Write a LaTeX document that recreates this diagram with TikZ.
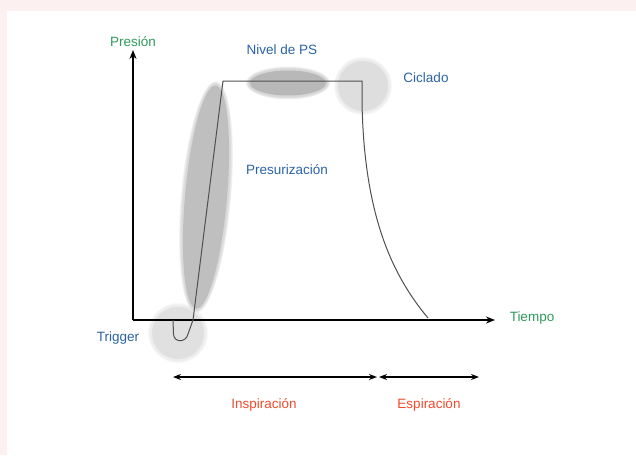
\documentclass[tikz,border=0pt]{standalone}
\usepackage{fontspec}
\setmainfont{Liberation Sans}
\usetikzlibrary{shapes.geometric,arrows.meta}
\definecolor{pinkbg}{HTML}{FDF0F0}
\definecolor{lblgreen}{HTML}{2E9B5C}
\definecolor{lblblue}{HTML}{2A64A6}
\definecolor{lblred}{HTML}{F04B2C}
\definecolor{wave}{HTML}{505050}
\tikzset{
  lbl/.style={font=\fontsize{13.5}{15}\selectfont, inner sep=0pt},
  greenlbl/.style={lbl, text=lblgreen},
  bluelbl/.style={lbl, text=lblblue},
  redlbl/.style={lbl, text=lblred},
  axis/.style={line width=1.4pt, -{Stealth[length=9pt,width=7pt]}},
  span/.style={line width=1.4pt, {Stealth[length=8pt,width=6pt]}-{Stealth[length=8pt,width=6pt]}},
  blob/.style={ellipse, draw=none, inner sep=0pt},
  halo/.style={ellipse, draw=none, inner sep=0pt, fill opacity=0.18},
  wavestyle/.style={wave, line width=1pt}
}
\begin{document}
\begin{tikzpicture}[x=1pt,y=-1pt]
\useasboundingbox (0,0) rectangle (636,455);
\fill[pinkbg] (0,0) rectangle (636,455);
\fill[white] (7,11) rectangle (636,455);

% blob halos (soft edges)
\foreach \k in {1,2,3,4}{
  \node[halo, fill=black!25, minimum width={44pt+1.5pt*\k}, minimum height={226pt+1.5pt*\k}, rotate=-5] at (206,197) {};
  \node[halo, fill=black!28, minimum width={78pt+1.5pt*\k}, minimum height={27pt+1.5pt*\k}] at (288,83) {};
  \node[halo, fill=black!13, minimum width={52pt+1.5pt*\k}, minimum height={52pt+1.5pt*\k}] at (363,86) {};
  \node[halo, fill=black!12, minimum width={54pt+1.5pt*\k}, minimum height={54pt+1.5pt*\k}] at (178,333) {};
}
% blobs
\node[blob, fill=black!25, minimum width=42pt, minimum height=224pt, rotate=-5] (presblob) at (206,197) {};
\node[blob, fill=black!28, minimum width=76pt, minimum height=25pt] (psblob) at (288,83) {};
\node[circle, fill=black!13, minimum size=50pt, inner sep=0pt] (cicblob) at (363,86) {};
\node[circle, fill=black!12, minimum size=52pt, inner sep=0pt] (trigblob) at (178,333) {};

% axes
\coordinate (O) at (133,320);
\coordinate (ytip) at (133,50);
\coordinate (xtip) at (495,320);
\draw[axis] (O) -- (ytip);
\draw[axis] (O) -- (xtip);

% waveform
\coordinate (w0) at (173,320);
\coordinate (w1) at (193,320);
\coordinate (w2) at (223,81);
\coordinate (w3) at (362,81);
\coordinate (w4) at (362,102);
\coordinate (w5) at (428,318);
\draw[wavestyle] (w0) -- (173.5,334) .. controls (174,343) and (186,343) .. (188,334)
  -- (w1) -- (w2) -- (w3) -- (w4) .. controls (364,215) and (392,275) .. (w5);

% labels
\node[greenlbl] (presion) at (133,42) {Presión};
\node[greenlbl] (tiempo) at (532,318) {Tiempo};
\node[bluelbl] (nivel) at (282,50) {Nivel de PS};
\node[bluelbl] (ciclado) at (426,78) {Ciclado};
\node[bluelbl] (presur) at (287,170) {Presurización};
\node[bluelbl] (trigger) at (118,338) {Trigger};
\node[redlbl] (insp) at (264,405) {Inspiración};
\node[redlbl] (esp) at (429,405) {Espiración};

% spans
\coordinate (s0) at (173,377);
\coordinate (s1) at (377,377);
\coordinate (s2) at (379,377);
\coordinate (s3) at (479,377);
\draw[span] (s0) -- (s1);
\draw[span] (s2) -- (s3);
\end{tikzpicture}
\end{document}
